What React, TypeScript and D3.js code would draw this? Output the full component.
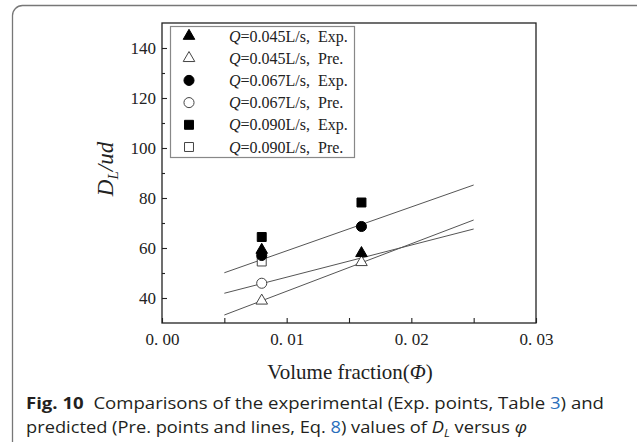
import React, { useRef, useEffect } from 'react';
import * as d3 from 'd3';

// volume fraction positions of the measurements
const measuredX = [0.008, 0.016];

// experimental points (filled markers)
const expQ045 = [59.2, 57.9];
const expQ067 = [57.0, 68.6];
const expQ090 = [64.4, 78.2];

// predicted points (open markers), only the visible ones
const preQ045 = [38.9, 54.3];
const preQ067 = [45.9];
const preQ090 = [54.6];

// predicted lines (Eq. 8)
const lineX = [0.005, 0.025];
const lineQ045 = [33.2, 71.2];
const lineQ067 = [41.9, 67.6];
const lineQ090 = [50.1, 85.2];

const xTicks = [0, 0.01, 0.02, 0.03];
const xTickLabels = ['0. 00', '0. 01', '0. 02', '0. 03'];
const yTicks = [40, 60, 80, 100, 120, 140];

const legendRates = ['0.045', '0.045', '0.067', '0.067', '0.090', '0.090'];
const legendKinds = ['Exp.', 'Pre.', 'Exp.', 'Pre.', 'Exp.', 'Pre.'];

const W = 637;
const H = 442;
const serif = '"Liberation Serif", "Times New Roman", serif';

export default function App() {
  const ref = useRef<SVGSVGElement | null>(null);

  useEffect(() => {
    if (!ref.current) return;
    const svg = d3.select(ref.current);
    svg.selectAll('*').remove();

    const margin = { left: 162, right: W - 536, top: 23, bottom: H - 323 };
    const x = d3.scaleLinear().domain([0, 0.03]).range([margin.left, W - margin.right]);
    const y = d3.scaleLinear().domain([30, 150]).range([H - margin.bottom, margin.top]);

    // outer figure border
    svg.append('rect')
      .attr('x', 12.5).attr('y', 5.5)
      .attr('width', 640).attr('height', 470)
      .attr('rx', 10)
      .attr('fill', 'none')
      .attr('stroke', '#777')
      .attr('stroke-width', 1.3);

    // frame
    svg.append('rect')
      .attr('x', x(0)).attr('y', y(150))
      .attr('width', x(0.03) - x(0)).attr('height', y(30) - y(150))
      .attr('fill', 'none')
      .attr('stroke', '#222')
      .attr('stroke-width', 1.3);

    // ticks (inward)
    const bottomAxis = svg.append('g').attr('transform', `translate(0,${y(30)})`);
    bottomAxis.call(
      d3.axisBottom(x).tickValues(xTicks).tickSize(-5)
        .tickFormat((_, i) => xTickLabels[i])
    );
    bottomAxis.append('g').call(
      d3.axisBottom(x).tickValues([0.005, 0.015, 0.025]).tickSize(-5).tickFormat(() => '')
    );

    const leftAxis = svg.append('g').attr('transform', `translate(${x(0)},0)`);
    leftAxis.call(d3.axisLeft(y).tickValues(yTicks).tickSize(-5));
    leftAxis.append('g').call(
      d3.axisLeft(y).tickValues([50, 70, 90, 110, 130]).tickSize(-3).tickFormat(() => '')
    );

    svg.selectAll('.domain').remove();
    svg.selectAll('.tick line').attr('stroke', '#222').attr('stroke-width', 1.1);
    svg.selectAll('.tick text')
      .attr('fill', '#222')
      .style('font-family', serif)
      .style('font-size', '17px');
    bottomAxis.selectAll('.tick text').attr('y', 10);
    leftAxis.selectAll('.tick text').attr('x', -6);

    // predicted lines
    const line = d3.line<number>().x((_, i) => x(lineX[i])).y(d => y(d));
    [lineQ045, lineQ067, lineQ090].forEach(vals => {
      svg.append('path')
        .datum(vals)
        .attr('d', line)
        .attr('fill', 'none')
        .attr('stroke', '#555')
        .attr('stroke-width', 1);
    });

    const tri = d3.symbol().type(d3.symbolTriangle).size(58)();
    const circ = d3.symbol().type(d3.symbolCircle).size(80)();
    const sq = d3.symbol().type(d3.symbolSquare).size(80)();

    const drawPoints = (vals: number[], path: string | null, filled: boolean) => {
      svg.append('g').selectAll('path')
        .data(vals)
        .join('path')
        .attr('transform', (d, i) => `translate(${x(measuredX[i])},${y(d)})`)
        .attr('d', path)
        .attr('fill', filled ? '#000' : '#fff')
        .attr('stroke', filled ? '#000' : '#444')
        .attr('stroke-width', 1);
    };

    // open markers first, filled experimental ones on top
    drawPoints(preQ090, sq, false);
    drawPoints(preQ067, circ, false);
    drawPoints(preQ045, tri, false);
    drawPoints(expQ090, sq, true);
    drawPoints(expQ067, circ, true);
    drawPoints(expQ045, tri, true);

    // legend
    const legend = svg.append('g');
    legend.append('rect')
      .attr('x', 170.5).attr('y', 26.5)
      .attr('width', 184).attr('height', 131)
      .attr('fill', '#fff')
      .attr('stroke', '#888')
      .attr('stroke-width', 1.2);

    const shapes = [tri, tri, circ, circ, sq, sq];
    legendRates.forEach((rate, i) => {
      const cy = 36 + i * 22.2;
      const filled = legendKinds[i] === 'Exp.';
      legend.append('path')
        .attr('transform', `translate(189,${cy})`)
        .attr('d', shapes[i])
        .attr('fill', filled ? '#000' : '#fff')
        .attr('stroke', filled ? '#000' : '#444');
      const t = legend.append('text')
        .attr('x', 229)
        .attr('y', cy + 5.5)
        .attr('fill', '#222')
        .style('font-family', serif)
        .style('font-size', '16px')
        .attr('xml:space', 'preserve');
      t.append('tspan').attr('font-style', 'italic').text('Q');
      t.append('tspan').text(`=${rate}L/s,  ${legendKinds[i]}`);
    });

    // axis titles
    const xt = svg.append('text')
      .attr('x', 350).attr('y', 379)
      .attr('text-anchor', 'middle')
      .attr('fill', '#222')
      .style('font-family', serif)
      .style('font-size', '21px');
    xt.append('tspan').text('Volume fraction(');
    xt.append('tspan').attr('font-style', 'italic').text('Φ');
    xt.append('tspan').text(')');

    const yt = svg.append('text')
      .attr('transform', 'translate(113,169) rotate(-90)')
      .attr('text-anchor', 'middle')
      .attr('fill', '#222')
      .style('font-family', serif)
      .style('font-size', '23px')
      .attr('font-style', 'italic');
    yt.append('tspan').text('D');
    yt.append('tspan').attr('dy', 5).style('font-size', '15px').text('L');
    yt.append('tspan').attr('dy', -5).text('/ud');

    // caption
    const capFont = '"Open Sans", "Noto Sans", sans-serif';
    const c1 = svg.append('text')
      .attr('x', 26).attr('y', 409)
      .attr('fill', '#231f20')
      .attr('textLength', 578)
      .attr('lengthAdjust', 'spacingAndGlyphs')
      .style('font-family', capFont)
      .style('font-size', '16.5px')
      .attr('xml:space', 'preserve');
    c1.append('tspan').attr('font-weight', 'bold').text('Fig. 10');
    c1.append('tspan').text('  Comparisons of the experimental (Exp. points, Table ');
    c1.append('tspan').attr('fill', '#2a6ebb').text('3');
    c1.append('tspan').text(') and');

    const c2 = svg.append('text')
      .attr('x', 26).attr('y', 433)
      .attr('fill', '#231f20')
      .attr('textLength', 501)
      .attr('lengthAdjust', 'spacingAndGlyphs')
      .style('font-family', capFont)
      .style('font-size', '16.5px');
    c2.append('tspan').text('predicted (Pre. points and lines, Eq. ');
    c2.append('tspan').attr('fill', '#2a6ebb').text('8');
    c2.append('tspan').text(') values of ');
    c2.append('tspan').attr('font-style', 'italic').text('D');
    c2.append('tspan').attr('font-style', 'italic').attr('dy', 4).style('font-size', '11px').text('L');
    c2.append('tspan').attr('dy', -4).text(' versus ');
    c2.append('tspan').attr('font-style', 'italic').text('φ');
  }, []);

  return (
    <svg
      ref={ref}
      width={W}
      height={H}
      style={{ position: 'absolute', left: 0, top: 0, display: 'block', background: '#fff' }}
    />
  );
}
